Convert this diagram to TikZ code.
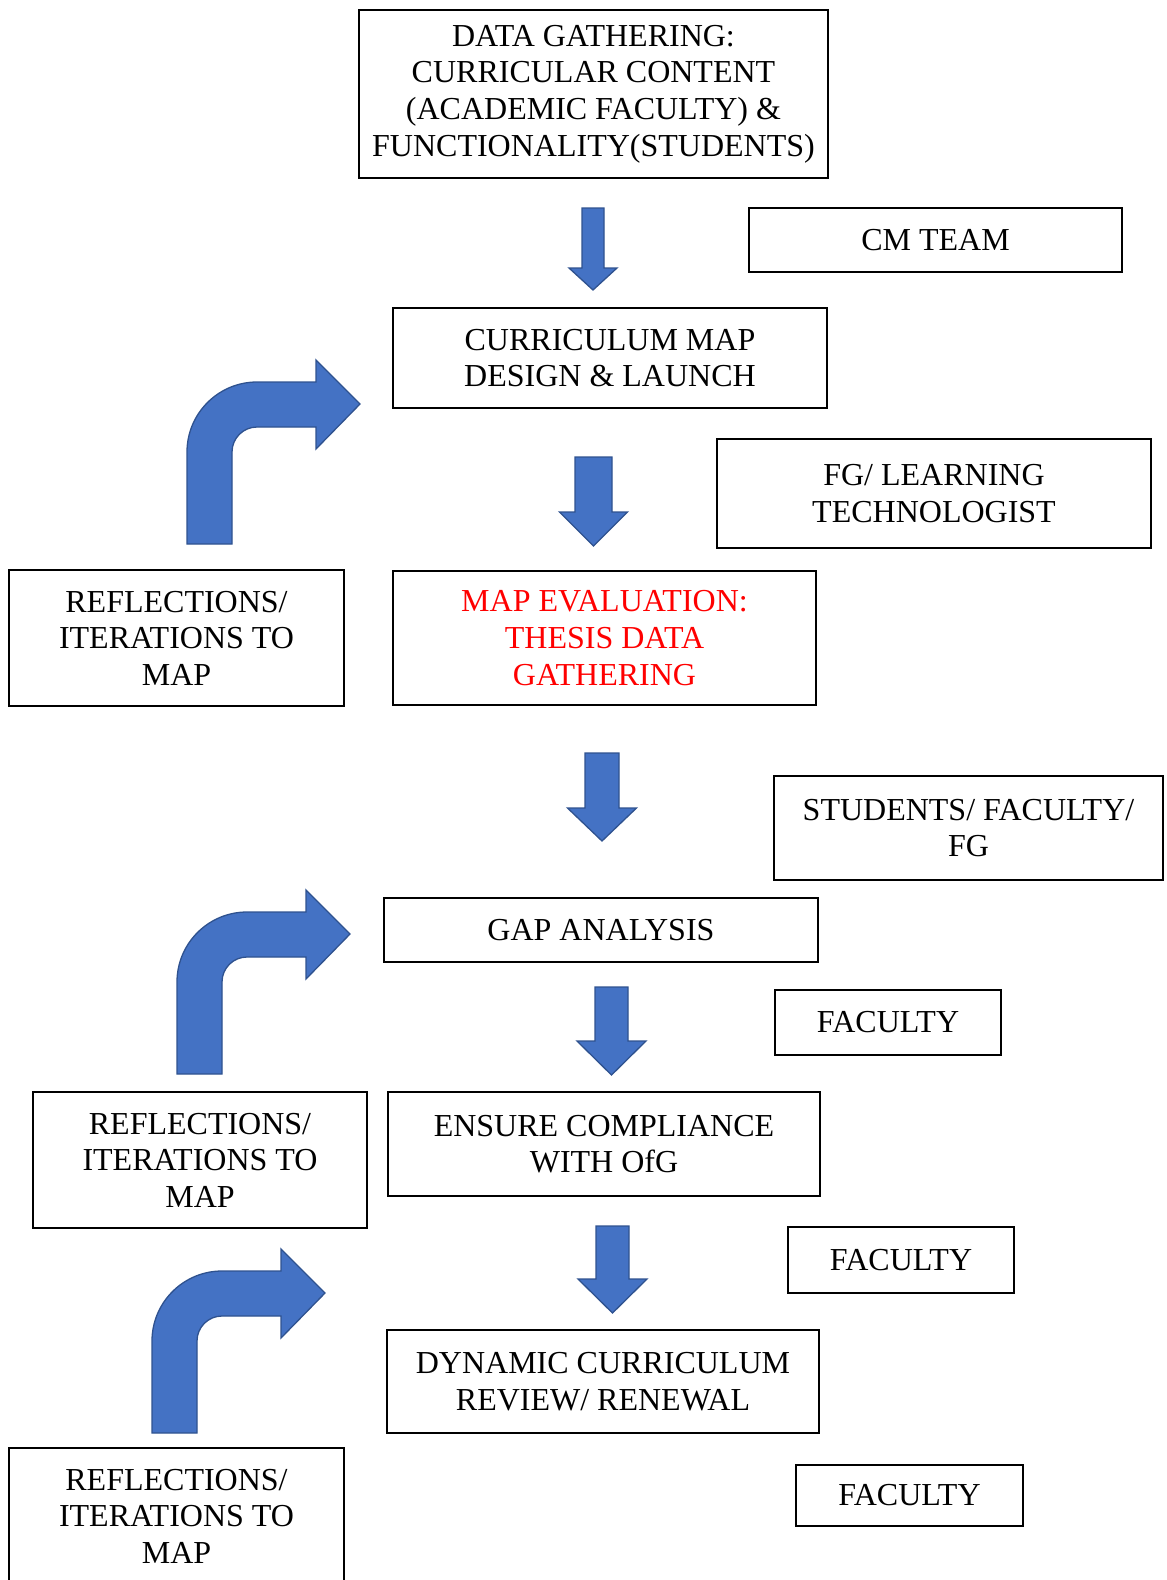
\documentclass[tikz,border=0pt]{standalone}
\usepackage{fontspec}
\setmainfont{Liberation Serif}
\usepackage{tikz}
\definecolor{arrowblue}{HTML}{4472C4}
\definecolor{arrowedge}{HTML}{2F528F}
\tikzset{stepbox/.style={draw, line width=1.2pt, align=center, inner sep=0pt,
    font=\fontsize{32}{36.6}\selectfont},
  blockarrow/.style={fill=arrowblue, draw=arrowedge, line width=1.3pt, line join=miter},
  pics/downarr/.style n args={4}{code={%
    \draw[blockarrow] (-#1/2,0) -- (#1/2,0) -- (#1/2,#3) -- (#2/2,#3) -- (0,#4)
      -- (-#2/2,#3) -- (-#1/2,#3) -- cycle;}},
  pics/bentarr/.style={code={%
    \draw[blockarrow] (0,0) -- (0,-92) .. controls (0,-130.6) and (31.4,-162) .. (70,-162)
      -- (129,-162) -- (129,-184) -- (173,-140) -- (129,-95) -- (129,-117) -- (70,-117)
      .. controls (56.2,-117) and (45,-105.8) .. (45,-92) -- (45,0) -- cycle;}}}

\begin{document}
\begin{tikzpicture}[x=1pt, y=-1pt]
    \useasboundingbox (0,0) rectangle (1167,1580);
    \clip (0,0) rectangle (1167,1580);

    % main steps
    \node[stepbox, minimum width=469pt, minimum height=168pt] (gather) at (593.5,94)
      {DATA GATHERING:\\ CURRICULAR CONTENT\\ (ACADEMIC FACULTY) \&\\ FUNCTIONALITY(STUDENTS)};
    \node[stepbox, minimum width=434pt, minimum height=100pt] (design) at (610,358)
      {CURRICULUM MAP\\ DESIGN \& LAUNCH};
    \node[stepbox, minimum width=423pt, minimum height=134pt, text=red] (evaluation) at (604.5,638)
      {MAP EVALUATION:\\ THESIS DATA\\ GATHERING};
    \node[stepbox, minimum width=434pt, minimum height=64pt] (gap) at (601,930)
      {GAP ANALYSIS};
    \node[stepbox, minimum width=432pt, minimum height=104pt] (comply) at (604,1144)
      {ENSURE COMPLIANCE\\ WITH OfG};
    \node[stepbox, minimum width=432pt, minimum height=103pt] (review) at (603,1381.5)
      {DYNAMIC CURRICULUM\\ REVIEW/ RENEWAL};

    % who is involved
    \node[stepbox, minimum width=373pt, minimum height=64pt] (cm-team) at (935.5,240)
      {CM TEAM};
    \node[stepbox, minimum width=434pt, minimum height=109pt] (fg-tech) at (934,493.5)
      {FG/ LEARNING\\ TECHNOLOGIST};
    \node[stepbox, minimum width=389pt, minimum height=104pt] (stud-fac) at (968.5,828)
      {STUDENTS/ FACULTY/\\ FG};
    \node[stepbox, minimum width=226pt, minimum height=65pt] (fac-1) at (888,1022.5)
      {FACULTY};
    \node[stepbox, minimum width=226pt, minimum height=66pt] (fac-2) at (901,1260)
      {FACULTY};
    \node[stepbox, minimum width=227pt, minimum height=61pt] (fac-3) at (909.5,1495.5)
      {FACULTY};

    % reflections
    \node[stepbox, minimum width=335pt, minimum height=136pt] (refl-1) at (176.5,638)
      {REFLECTIONS/\\ ITERATIONS TO\\ MAP};
    \node[stepbox, minimum width=334pt, minimum height=136pt] (refl-2) at (200,1160)
      {REFLECTIONS/\\ ITERATIONS TO\\ MAP};
    \node[stepbox, minimum width=335pt, minimum height=136pt] (refl-3) at (176.5,1516)
      {REFLECTIONS/\\ ITERATIONS TO\\ MAP};

    % block arrows
    \pic at (593,208) {downarr={22}{48}{60}{82}};
    \pic at (593.5,457) {downarr={37}{68}{55}{89}};
    \pic at (602,753) {downarr={34}{69}{55}{88}};
    \pic at (611.5,987) {downarr={33}{69}{54}{88}};
    \pic at (612.5,1226) {downarr={33}{69}{53}{87}};

    \pic at (187,544) {bentarr};
    \pic at (177,1074) {bentarr};
    \pic at (152,1433) {bentarr};
\end{tikzpicture}
\end{document}
